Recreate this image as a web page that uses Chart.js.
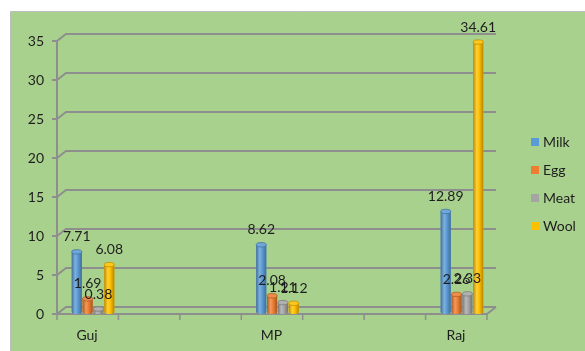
<!DOCTYPE html>
<html>
<head>
<meta charset="utf-8">
<script src="https://cdn.jsdelivr.net/npm/chart.js@4.4.1/dist/chart.umd.min.js"></script>
<style>
  html, body { margin: 0; padding: 0; background: #ffffff; }
  #wrap { position: relative; width: 585px; height: 351px; }
  canvas { display: block; }
</style>
</head>
<body>
<div id="wrap"><canvas id="c" width="585" height="351"></canvas></div>
<script>
// Production by state
const categories = ['Guj', 'MP', 'Raj'];
const seriesNames = ['Milk', 'Egg', 'Meat', 'Wool'];
const milk = [7.71, 8.62, 12.89];
const egg  = [1.69, 2.08, 2.26];
const meat = [0.38, 1.21, 2.33];
const wool = [6.08, 1.12, 34.61];
const yTicks = [0, 5, 10, 15, 20, 25, 30, 35];

const seriesValues = [milk, egg, meat, wool];
const seriesColors = ['#5b9bd5', '#ed7d31', '#a5a5a5', '#ffc000'];
const FONT = 'Lato, "Open Sans", "DejaVu Sans", sans-serif';

// depth offsets of the front and back planes of the box
const FRONT = { dx: -3, dy: 2 };
const BACK = { dx: 6, dy: -5 };

function shade(hex, amt) {
  const n = parseInt(hex.slice(1), 16);
  let r = (n >> 16) & 255, g = (n >> 8) & 255, b = n & 255;
  const f = c => amt >= 0 ? Math.round(c + (255 - c) * amt) : Math.round(c * (1 + amt));
  return 'rgb(' + f(r) + ',' + f(g) + ',' + f(b) + ')';
}

const background = {
  id: 'background',
  beforeDraw(chart) {
    const { ctx, width, height } = chart;
    ctx.save();
    ctx.fillStyle = '#ffffff';
    ctx.fillRect(0, 0, width, height);
    ctx.fillStyle = '#a9d18e';
    ctx.fillRect(10, 12, width - 10, height - 12);
    ctx.strokeStyle = '#bdbdbd';
    ctx.lineWidth = 1;
    ctx.beginPath();
    ctx.moveTo(10.5, height);
    ctx.lineTo(10.5, 11.5);
    ctx.lineTo(width, 11.5);
    ctx.stroke();
    ctx.restore();
  }
};

// walls, floor and gridlines drawn in perspective
const box3d = {
  id: 'box3d',
  beforeDatasetsDraw(chart) {
    const { ctx, chartArea: a, scales: { y } } = chart;
    const y0 = y.getPixelForValue(0);
    const yTop = y.getPixelForValue(yTicks[yTicks.length - 1]);
    ctx.save();
    ctx.strokeStyle = '#8e8e8e';
    ctx.lineWidth = 2;
    ctx.lineJoin = 'miter';
    // left wall front edge
    ctx.beginPath();
    ctx.moveTo(a.left + FRONT.dx, y0 + FRONT.dy);
    ctx.lineTo(a.left + FRONT.dx, yTop + FRONT.dy);
    ctx.stroke();
    // gridlines
    yTicks.forEach(v => {
      const py = y.getPixelForValue(v);
      ctx.beginPath();
      ctx.moveTo(a.left + FRONT.dx - 5, py + FRONT.dy);
      ctx.lineTo(a.left + FRONT.dx, py + FRONT.dy);
      ctx.lineTo(a.left + BACK.dx, py + BACK.dy);
      ctx.lineTo(a.right + BACK.dx, py + BACK.dy);
      ctx.stroke();
    });
    // floor front and right edges
    ctx.beginPath();
    ctx.moveTo(a.left + FRONT.dx, y0 + FRONT.dy);
    ctx.lineTo(a.right + FRONT.dx, y0 + FRONT.dy);
    ctx.lineTo(a.right + BACK.dx, y0 + BACK.dy);
    ctx.stroke();
    // category axis tick marks
    ctx.lineWidth = 1.5;
    const n = 7;
    for (let i = 0; i <= n; i++) {
      const px = a.left + FRONT.dx + i * (a.right - a.left) / n;
      ctx.beginPath();
      ctx.moveTo(px, y0 + FRONT.dy);
      ctx.lineTo(px, y0 + FRONT.dy + 6);
      ctx.stroke();
    }
    ctx.restore();
  }
};

// cylinder shading, value labels and legend
const cylinders = {
  id: 'cylinders',
  afterDatasetsDraw(chart) {
    const { ctx } = chart;
    ctx.save();
    chart.data.datasets.forEach((ds, di) => {
      const meta = chart.getDatasetMeta(di);
      const c = seriesColors[di];
      meta.data.forEach(bar => {
        const { x, y, base, width } = bar.getProps(['x', 'y', 'base', 'width'], true);
        const l = x - width / 2;
        const g = ctx.createLinearGradient(l, 0, l + width, 0);
        g.addColorStop(0, shade(c, -0.28));
        g.addColorStop(0.35, shade(c, 0.22));
        g.addColorStop(0.6, c);
        g.addColorStop(1, shade(c, -0.3));
        ctx.fillStyle = g;
        ctx.fillRect(l, y, width, base - y);
        ctx.beginPath();
        ctx.ellipse(x, base, width / 2, 2, 0, 0, Math.PI);
        ctx.fill();
        ctx.beginPath();
        ctx.ellipse(x, y, width / 2, 2.2, 0, 0, Math.PI * 2);
        ctx.fillStyle = shade(c, 0.12);
        ctx.fill();
        ctx.strokeStyle = shade(c, -0.25);
        ctx.lineWidth = 0.8;
        ctx.stroke();
      });
    });
    ctx.font = '14px ' + FONT;
    ctx.fillStyle = '#1e1e1e';
    ctx.textAlign = 'center';
    ctx.textBaseline = 'middle';
    chart.data.datasets.forEach((ds, di) => {
      const meta = chart.getDatasetMeta(di);
      meta.data.forEach((bar, i) => {
        const { x, y } = bar.getProps(['x', 'y'], true);
        ctx.fillText(seriesValues[di][i].toFixed(2), x, y - 15);
      });
    });
    ctx.restore();
  },
  afterDraw(chart) {
    const { ctx } = chart;
    ctx.save();
    ctx.font = '14px ' + FONT;
    ctx.textAlign = 'left';
    ctx.textBaseline = 'middle';
    seriesNames.forEach((name, i) => {
      const cy = 142 + i * 28;
      ctx.fillStyle = seriesColors[i];
      ctx.fillRect(531, cy - 4, 8, 8);
      ctx.fillStyle = '#1e1e1e';
      ctx.fillText(name, 543, cy);
    });
    ctx.restore();
  }
};

const datasets = seriesNames.map((name, di) => ({
  label: name,
  data: seriesValues[di].map((v, i) => ({ x: i, y: v })),
  backgroundColor: seriesColors[di],
  borderWidth: 0,
  categoryPercentage: 0.235,
  barPercentage: 0.93
}));

new Chart(document.getElementById('c'), {
  type: 'bar',
  data: { datasets },
  options: {
    responsive: false,
    devicePixelRatio: 1,
    animation: false,
    layout: { padding: { top: 39, right: 95, bottom: 0, left: 0 } },
    plugins: { legend: { display: false }, tooltip: { enabled: false } },
    scales: {
      x: {
        type: 'linear',
        offset: false,
        min: -0.179,
        max: 2.152,
        grid: { display: false, drawTicks: false, offset: false },
        border: { display: false },
        afterBuildTicks(scale) { scale.ticks = categories.map((c, i) => ({ value: i })); },
        afterFit(scale) { scale.height = 39; },
        ticks: {
          padding: 15,
          labelOffset: -6,
          color: '#1e1e1e',
          font: { family: FONT, size: 14 },
          callback: v => categories[v]
        }
      },
      y: {
        min: 0,
        max: 35,
        grid: { display: false, drawTicks: false },
        border: { display: false },
        afterBuildTicks(scale) { scale.ticks = yTicks.map(v => ({ value: v })); },
        afterFit(scale) { scale.width = 60; },
        ticks: {
          padding: 16,
          labelOffset: 2,
          color: '#1e1e1e',
          font: { family: FONT, size: 14 }
        }
      }
    }
  },
  plugins: [background, box3d, cylinders]
});
</script>
</body>
</html>
